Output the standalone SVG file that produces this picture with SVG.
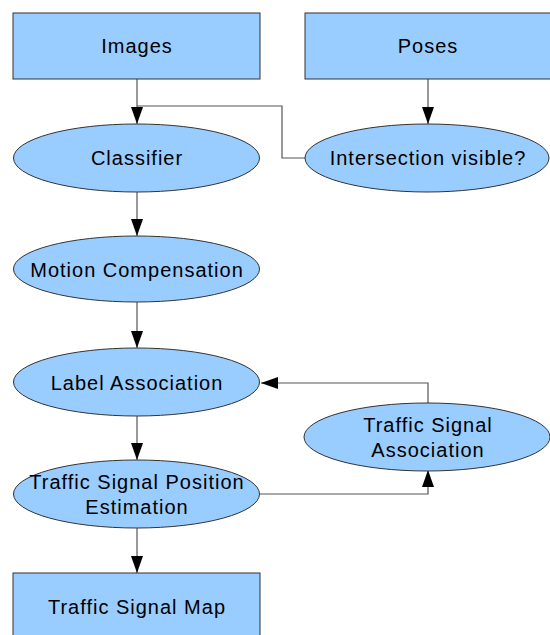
<svg xmlns="http://www.w3.org/2000/svg" width="550" height="635" viewBox="0 0 550 635">
<defs>
<style>
.box{fill:#99ccff;stroke:#333;stroke-width:1}
.ell{fill:#99ccff;stroke:#333;stroke-width:1}
.lbl{font-family:"Liberation Sans",Arial,sans-serif;font-size:20px;letter-spacing:1px;fill:#000;text-anchor:middle}
.con{fill:none;stroke:#555;stroke-width:1.2}
</style>
<marker id="arr" markerUnits="userSpaceOnUse" markerWidth="12" markerHeight="18" viewBox="0 0 12 18" refX="17" refY="6" orient="auto">
<path d="M0,0 L17,6 L0,12 Z" fill="#000"/>
</marker>
<marker id="ah" markerUnits="userSpaceOnUse" markerWidth="17" markerHeight="12" viewBox="0 0 17 12" refX="17" refY="6" orient="auto">
<path d="M0,0 L17,6 L0,12 Z" fill="#000"/>
</marker>
</defs>
<rect width="550" height="635" fill="#fff"/>
<g id="connectors">
<path class="con" d="M137,79 V124" marker-end="url(#ah)"/>
<path class="con" d="M137,106 H282 V158 H305"/>
<path class="con" d="M428,79 V124" marker-end="url(#ah)"/>
<path class="con" d="M137,192 V236" marker-end="url(#ah)"/>
<path class="con" d="M137,302 V348" marker-end="url(#ah)"/>
<path class="con" d="M428,403 V383 H261" marker-end="url(#ah)"/>
<path class="con" d="M137,416 V460" marker-end="url(#ah)"/>
<path class="con" d="M260,494 H428 V470" marker-end="url(#ah)"/>
<path class="con" d="M137,528 V573" marker-end="url(#ah)"/>
</g>
<g id="images"><rect class="box" x="13" y="13" width="247" height="66"/><text class="lbl" x="137" y="53">Images</text></g>
<g id="poses"><rect class="box" x="305" y="13" width="250" height="66"/><text class="lbl" x="428" y="53">Poses</text></g>
<g id="classifier"><ellipse class="ell" cx="136.5" cy="158" rx="123" ry="34"/><text class="lbl" x="137" y="165">Classifier</text></g>
<g id="intersection"><ellipse class="ell" cx="427" cy="158" rx="122" ry="34"/><text class="lbl" x="428" y="165">Intersection visible?</text></g>
<g id="motion"><ellipse class="ell" cx="136.5" cy="269" rx="123" ry="33"/><text class="lbl" x="137" y="277">Motion Compensation</text></g>
<g id="label"><ellipse class="ell" cx="136.5" cy="382" rx="123" ry="34"/><text class="lbl" x="137" y="390">Label Association</text></g>
<g id="tsa"><ellipse class="ell" cx="427" cy="437" rx="123" ry="34"/><text class="lbl" x="428" y="432">Traffic Signal</text><text class="lbl" x="428" y="457">Association</text></g>
<g id="tspe"><ellipse class="ell" cx="136.5" cy="494" rx="123" ry="34"/><text class="lbl" x="137" y="489">Traffic Signal Position</text><text class="lbl" x="137" y="514">Estimation</text></g>
<g id="map"><rect class="box" x="13" y="573" width="247" height="67"/><text class="lbl" x="137" y="614">Traffic Signal Map</text></g>
</svg>
